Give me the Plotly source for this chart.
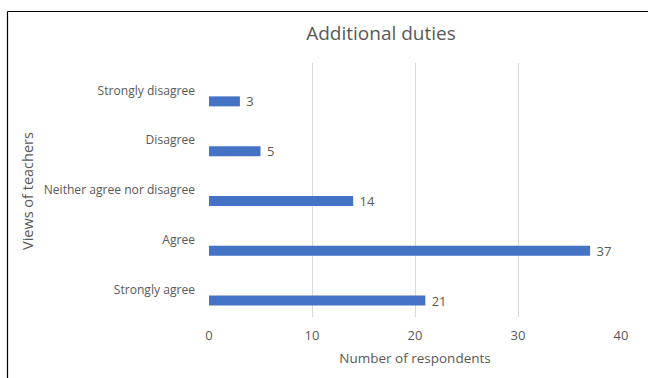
import plotly.graph_objects as go

# Survey responses, listed from the bottom of the chart upwards
views = ["Strongly agree", "Agree", "Neither agree nor disagree", "Disagree", "Strongly disagree"]
respondents = [21, 37, 14, 5, 3]
x_ticks = [0, 10, 20, 30, 40]

W, H = 648, 378
L, R, T, B = 209, 27, 63, 61
plot_w = W - L - R
plot_h = H - T - B

def px_x(px):
    return (px - L) / plot_w

def px_y(py):
    return (H - B - py) / plot_h

grey = "#595959"
font_family = "Open Sans"

fig = go.Figure(
    go.Bar(
        x=respondents,
        y=views,
        orientation="h",
        marker=dict(color="#4472C4", line=dict(width=0)),
        width=0.2,
        offset=-0.32,
        text=["\u00a0" + str(v) for v in respondents],
        textposition="outside",
        constraintext="none",
        cliponaxis=False,
        textfont=dict(family=font_family, size=13, color=grey),
    )
)

fig.update_layout(
    width=W,
    height=H,
    margin=dict(l=L, r=R, t=T, b=B, autoexpand=False),
    paper_bgcolor="white",
    plot_bgcolor="white",
    showlegend=False,
    font=dict(family=font_family, size=12, color=grey),
    title=dict(
        text="Additional duties",
        x=px_x(381),
        xref="paper",
        xanchor="center",
        y=1 - 33 / H,
        yref="container",
        yanchor="middle",
        font=dict(family=font_family, size=19, color=grey),
    ),
    xaxis=dict(
        range=[0, 40],
        tickvals=x_ticks,
        showgrid=True,
        gridcolor="#D9D9D9",
        gridwidth=1,
        zeroline=False,
        showline=False,
        ticks="",
        ticklabelstandoff=9,
        tickfont=dict(size=13, color=grey),
        title=dict(text="Number of respondents", font=dict(size=13.5, color=grey), standoff=10),
    ),
    yaxis=dict(
        type="category",
        categoryorder="array",
        categoryarray=views,
        range=[-0.55, 4.55],
        showgrid=False,
        zeroline=False,
        showline=False,
        ticks="",
        ticklabelstandoff=13,
        tickfont=dict(size=12.1, color=grey),
    ),
    annotations=[
        dict(
            text="Views of teachers",
            xref="paper",
            yref="paper",
            x=px_x(27),
            y=px_y(191),
            xanchor="center",
            yanchor="middle",
            textangle=-90,
            showarrow=False,
            font=dict(family=font_family, size=14.5, color=grey),
        )
    ],
    shapes=[
        dict(type="line", xref="paper", yref="paper",
             x0=px_x(7.5), x1=px_x(W + 5), y0=px_y(11.5), y1=px_y(11.5),
             line=dict(color="black", width=1.2)),
        dict(type="line", xref="paper", yref="paper",
             x0=px_x(7.5), x1=px_x(7.5), y0=px_y(11.5), y1=px_y(H + 5),
             line=dict(color="black", width=1.2)),
    ],
)

fig.write_html("out.html")
